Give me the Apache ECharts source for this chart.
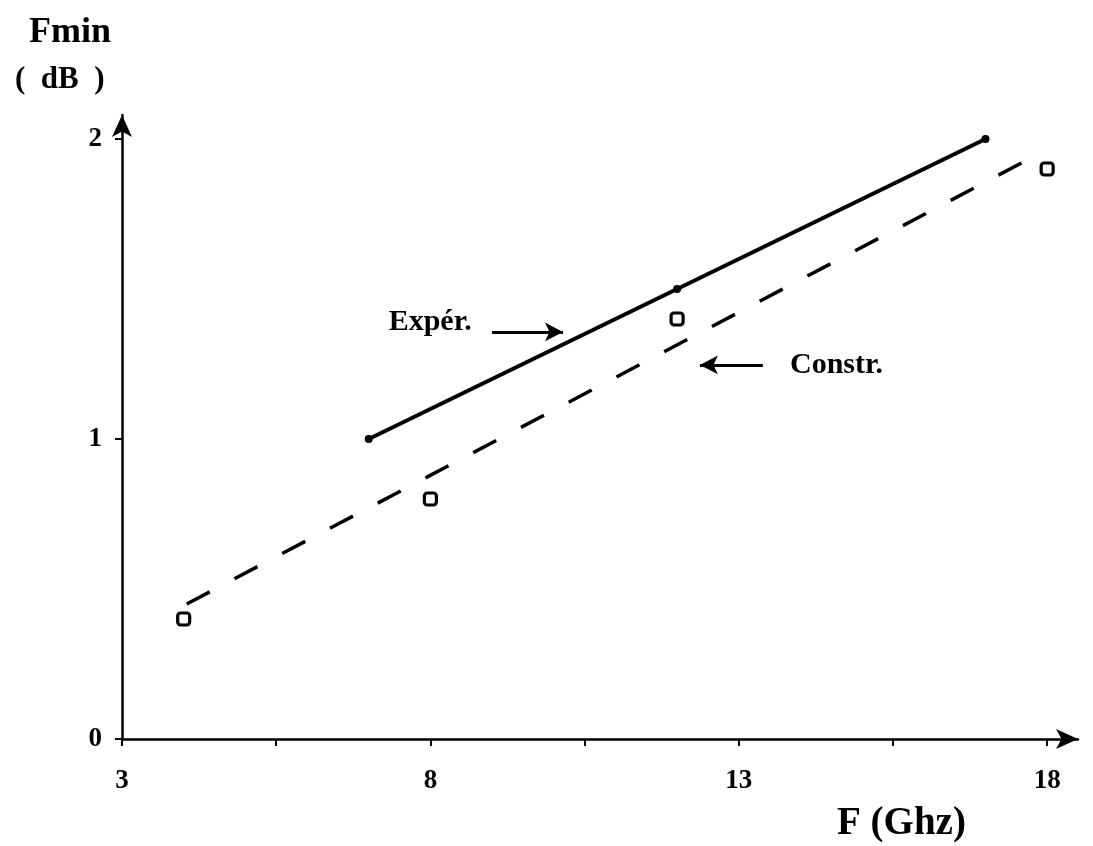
<!DOCTYPE html>
<html>
<head>
<meta charset="utf-8">
<title>Fmin vs F</title>
<script src="https://cdn.jsdelivr.net/npm/echarts@6/dist/echarts.min.js"></script>
<style>
  html, body { margin: 0; padding: 0; background: #fff; }
  #chart { width: 1093px; height: 846px; }
</style>
</head>
<body>
<div id="chart"></div>
<script>
// Measured noise figure (solid line with dots)
const experF = [7, 12, 17];
const experFmin = [1.0, 1.5, 2.0];

// Manufacturer values (open squares)
const constrF = [4, 8, 12, 18];
const constrFmin = [0.4, 0.8, 1.4, 1.9];

// Dashed trend line through the manufacturer values
const trendF = [4.05, 17.95];
const trendFmin = [0.45, 1.96];

// Axis ticks and labels
const xTicks = [3, 5.5, 8, 10.5, 13, 15.5, 18];
const xLabels = [3, 8, 13, 18];
const yTicks = [0, 1, 2];
const yLabels = [0, 1, 2];

// Annotation arrows and captions (data coordinates)
const arrowExper = [[9.0, 1.357], [10.15, 1.357]];
const arrowConstr = [[13.39, 1.247], [12.37, 1.247]];
const captionExper = [8.67, 1.39];
const captionConstr = [13.83, 1.247];

const FONT = '"Liberation Serif", "DejaVu Serif", serif';
const INK = '#000';

const pairs = (xs, ys) => xs.map((x, i) => [x, ys[i]]);

const captionStyle = {
  show: true, fontFamily: FONT, fontWeight: 'bold', fontSize: 30, color: INK, opacity: 1
};

const chart = echarts.init(document.getElementById('chart'), null, { renderer: 'canvas' });

chart.setOption({
  backgroundColor: '#fff',
  animation: false,
  title: [
    { text: 'Fmin', left: 24, top: 10,
      textStyle: { fontFamily: FONT, fontWeight: 'bold', fontSize: 36, color: INK } },
    { text: '(  dB  )', left: 10, top: 59,
      textStyle: { fontFamily: FONT, fontWeight: 'bold', fontSize: 31, color: INK } },
    { text: 'F (Ghz)', left: 832, top: 799,
      textStyle: { fontFamily: FONT, fontWeight: 'bold', fontSize: 39, color: INK } }
  ],
  grid: { left: 122, right: 15, top: 115, bottom: 107, containLabel: false },
  xAxis: {
    type: 'value',
    min: 3, max: 18.5,
    splitLine: { show: false },
    axisLine: { show: true, onZero: false, symbol: ['none', 'arrow'], symbolSize: [15, 22],
      lineStyle: { color: INK, width: 2.5 } },
    axisTick: { show: true, inside: false, length: 7, customValues: xTicks,
      lineStyle: { color: INK, width: 2 } },
    axisLabel: { show: true, customValues: xLabels, margin: 29,
      fontFamily: FONT, fontWeight: 'bold', fontSize: 27, color: INK }
  },
  yAxis: {
    type: 'value',
    min: 0, max: 2.08,
    splitLine: { show: false },
    axisLine: { show: true, onZero: false, symbol: ['none', 'arrow'], symbolSize: [15, 22],
      lineStyle: { color: INK, width: 2.5 } },
    axisTick: { show: true, inside: false, length: 7, customValues: yTicks,
      lineStyle: { color: INK, width: 2 } },
    axisLabel: { show: true, customValues: yLabels, margin: 20,
      fontFamily: FONT, fontWeight: 'bold', fontSize: 27, color: INK }
  },
  series: [
    {
      name: 'Expér.',
      type: 'line',
      data: pairs(experF, experFmin),
      symbol: 'circle',
      symbolSize: 8,
      itemStyle: { color: INK, opacity: 1 },
      lineStyle: { color: INK, width: 4 },
      z: 5
    },
    {
      name: 'Constr. trend',
      type: 'line',
      data: pairs(trendF, trendFmin),
      showSymbol: false,
      symbol: 'none',
      lineStyle: { color: INK, width: 3.5, type: [26, 28] },
      z: 4
    },
    {
      name: 'Constr.',
      type: 'scatter',
      data: pairs(constrF, constrFmin),
      symbol: 'roundRect',
      symbolSize: 12,
      itemStyle: { color: '#fff', borderColor: INK, borderWidth: 3.2, opacity: 1 },
      z: 6
    },
    {
      name: 'arrows',
      type: 'line',
      data: [],
      markLine: {
        silent: true,
        symbol: ['none', 'arrow'],
        symbolSize: [14, 18],
        label: { show: false },
        lineStyle: { color: INK, width: 2.8, type: 'solid', opacity: 1 },
        data: [
          [{ coord: arrowExper[0] }, { coord: arrowExper[1] }],
          [{ coord: arrowConstr[0] }, { coord: arrowConstr[1] }]
        ]
      }
    },
    {
      name: 'captions',
      type: 'scatter',
      symbolSize: 0,
      silent: true,
      itemStyle: { opacity: 1 },
      data: [
        { value: captionExper,
          label: Object.assign({ formatter: 'Expér.', position: 'left', distance: 0 }, captionStyle) },
        { value: captionConstr,
          label: Object.assign({ formatter: 'Constr.', position: 'right', distance: 0 }, captionStyle) }
      ]
    }
  ]
});
</script>
</body>
</html>
